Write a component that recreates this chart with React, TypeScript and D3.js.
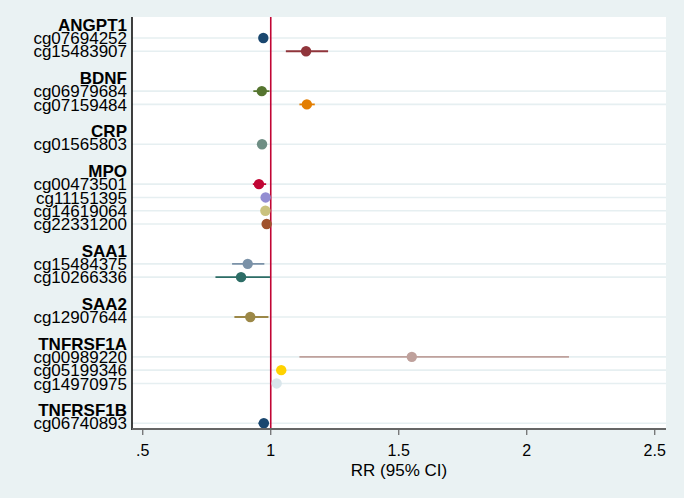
import React from "react";
import * as d3 from "d3";

// Row layout: groups with their CpG sites
const groups: string[] = ["ANGPT1", "BDNF", "CRP", "MPO", "SAA1", "SAA2", "TNFRSF1A", "TNFRSF1B"];
const siteGroup: string[] = [
  "ANGPT1", "ANGPT1", "BDNF", "BDNF", "CRP", "MPO", "MPO", "MPO", "MPO",
  "SAA1", "SAA1", "SAA2", "TNFRSF1A", "TNFRSF1A", "TNFRSF1A", "TNFRSF1B",
];
const sites: string[] = [
  "cg07694252", "cg15483907", "cg06979684", "cg07159484", "cg01565803",
  "cg00473501", "cg11151395", "cg14619064", "cg22331200",
  "cg15484375", "cg10266336", "cg12907644",
  "cg00989220", "cg05199346", "cg14970975", "cg06740893",
];
const rr: number[] = [0.971, 1.138, 0.965, 1.141, 0.966, 0.954, 0.98, 0.979, 0.984, 0.91, 0.884, 0.92, 1.551, 1.041, 1.023, 0.973];
const lo: number[] = [0.962, 1.059, 0.932, 1.112, 0.958, 0.93, 0.972, 0.971, 0.976, 0.849, 0.784, 0.858, 1.112, 1.03, 1.015, 0.952];
const hi: number[] = [0.98, 1.224, 0.995, 1.172, 0.975, 0.982, 0.988, 0.987, 0.993, 0.975, 0.997, 0.991, 2.165, 1.052, 1.031, 0.993];
const colors: string[] = [
  "#1a476f", "#90353b", "#55752f", "#e37e00", "#6e8e84", "#c10534", "#938dd2", "#cac27e",
  "#a0522d", "#7b92a8", "#2d6d66", "#9c8847", "#bfa19c", "#ffd200", "#d9e6eb", "#1a476f",
];
const xTicks: number[] = [0.5, 1, 1.5, 2, 2.5];
const xTickLabels: string[] = [".5", "1", "1.5", "2", "2.5"];
const xTitle = "RR (95% CI)";

type Row = { kind: "header" | "site" | "blank"; label: string; idx: number };

export default function App() {
  const W = 684, H = 498;
  const left = 132, right = 666, top = 17, bottom = 429;

  const rows: Row[] = [];
  groups.forEach((g, gi) => {
    if (gi > 0) rows.push({ kind: "blank", label: "", idx: -1 });
    rows.push({ kind: "header", label: g, idx: -1 });
    sites.forEach((s, i) => {
      if (siteGroup[i] === g) rows.push({ kind: "site", label: s, idx: i });
    });
  });

  const x = d3.scaleLinear().domain([0.458, 2.544]).range([left, right]);
  const y = d3.scaleLinear().domain([0, rows.length - 1]).range([24.7, 423.3]);
  const font = "'Liberation Sans', Arial, sans-serif";

  return (
    <svg width={W} height={H} style={{ position: "absolute", left: 0, top: 0 }} fontFamily={font}>
      <rect x={0} y={0} width={W} height={H} fill="#eaf2f3" />
      <rect x={left} y={top} width={right - left} height={bottom - top} fill="#ffffff" />
      {rows.map((r, i) =>
        r.kind === "site" ? (
          <line key={"g" + i} x1={left} x2={right} y1={y(i)} y2={y(i)} stroke="#e6eff1" strokeWidth={1.6} />
        ) : null
      )}
      <line x1={x(1)} x2={x(1)} y1={top} y2={bottom} stroke="#c10534" strokeWidth={1.6} />
      {rows.map((r, i) => {
        if (r.kind !== "site") return null;
        const k = r.idx;
        return (
          <g key={"p" + i}>
            <line x1={x(lo[k])} x2={x(hi[k])} y1={y(i)} y2={y(i)} stroke={colors[k]} strokeWidth={1.8} />
            <circle cx={x(rr[k])} cy={y(i)} r={5.2} fill={colors[k]} />
          </g>
        );
      })}
      {rows.map((r, i) =>
        r.kind === "blank" ? null : (
          <text
            key={"t" + i}
            x={127}
            y={y(i)}
            dy="0.36em"
            textAnchor="end"
            fontSize={17}
            fontWeight={r.kind === "header" ? "bold" : "normal"}
            fill="#000"
          >
            {r.label}
          </text>
        )
      )}
      <line x1={left} x2={left} y1={top} y2={bottom + 1} stroke="#000" strokeWidth={1.5} />
      <line x1={left} x2={right} y1={bottom} y2={bottom} stroke="#666" strokeWidth={2} />
      {xTicks.map((t, i) => (
        <g key={"x" + i}>
          <line x1={x(t)} x2={x(t)} y1={bottom} y2={bottom + 6} stroke="#666" strokeWidth={1.2} />
          <text x={x(t)} y={450} dy="0.36em" textAnchor="middle" fontSize={16} fill="#000">
            {xTickLabels[i]}
          </text>
        </g>
      ))}
      <text x={(left + right) / 2} y={470} dy="0.36em" textAnchor="middle" fontSize={17} fill="#000">
        {xTitle}
      </text>
    </svg>
  );
}
